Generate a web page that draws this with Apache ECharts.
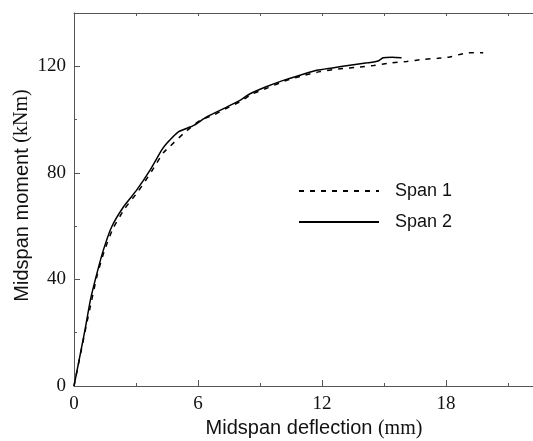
<!DOCTYPE html>
<html>
<head>
<meta charset="utf-8">
<script src="https://cdn.jsdelivr.net/npm/echarts@6/dist/echarts.min.js"></script>
<style>
  html, body { margin: 0; padding: 0; background: #fff; overflow: hidden; }
  /* plot box runs past the right edge of the 533px window */
  #chart-container { width: 570px; height: 441px; }
</style>
</head>
<body>
<div id="chart-container"></div>
<script>
// Span 1 (dashed)
var span1Deflection = [0, 0.55, 0.85, 1.12, 1.46, 1.88, 2.45, 3.1, 3.75, 4.32, 4.65, 5.29, 6.1, 6.7, 7.5, 8.1, 8.6, 9.4, 10.2, 11.1, 11.9, 12.8, 13.84, 14.5, 15.29, 16.1, 16.9, 17.6, 18.19, 19.0, 19.8];
var span1Moment = [0, 21, 32, 41.5, 50.5, 59, 66.5, 73, 80.5, 87.5, 90, 94.7, 99.7, 101.5, 104.7, 107, 109.5, 112, 114.5, 116.5, 118, 119, 119.7, 120.3, 121.2, 121.8, 122.6, 123, 123.5, 125, 125.1];

// Span 2 (solid)
var span2Deflection = [0, 0.53, 0.8, 1.1, 1.42, 1.82, 2.39, 3.03, 3.68, 4.24, 4.48, 5.05, 5.77, 6.42, 7.39, 8.03, 8.52, 9.3, 10.13, 11.0, 11.74, 12.5, 13.35, 14.2, 14.72, 14.96, 15.4, 15.85];
var span2Moment = [0, 21, 32.5, 42, 51, 59.7, 67.2, 73.5, 81, 88.5, 91, 95.4, 97.7, 101, 104.7, 107.2, 109.7, 112.3, 114.7, 116.8, 118.5, 119.4, 120.4, 121.3, 122, 123.2, 123.4, 123.2];

var seriesNames = ['Span 1', 'Span 2'];

function pairs(xs, ys) {
  return xs.map(function (x, i) { return [x, ys[i]]; });
}

var dom = document.getElementById('chart-container');
var myChart = echarts.init(dom, null, { renderer: 'canvas' });

var axisColor = '#555';
var serif = '"Liberation Serif", "DejaVu Serif", serif';
var sans = '"Liberation Sans", Arial, sans-serif';

var option = {
  animation: false,
  backgroundColor: '#fff',
  grid: { left: 74, top: 13, bottom: 55, right: 0, containLabel: false, outerBoundsMode: 'none' },
  legend: {
    orient: 'vertical',
    left: 293,
    top: 177,
    itemWidth: 80,
    itemHeight: 14,
    itemGap: 13,
    data: seriesNames,
    itemStyle: { opacity: 0 },
    textStyle: { fontFamily: sans, fontSize: 18, color: '#111', padding: [0, 0, 0, 11] }
  },
  xAxis: [
    {
      type: 'value',
      min: 0,
      max: 24,
      interval: 6,
      name: 'Midspan deflection {u|(mm)}',
      nameLocation: 'middle',
      nameGap: 32,
      nameTextStyle: {
        fontFamily: sans, fontSize: 20, color: '#111',
        padding: [0, 16, 0, 0],
        rich: { u: { fontFamily: serif, fontSize: 20, color: '#111' } }
      },
      axisLine: { lineStyle: { color: axisColor, width: 1 } },
      axisTick: { inside: true, length: 6, lineStyle: { color: axisColor } },
      minorTick: { show: true, splitNumber: 2, length: 3, lineStyle: { color: axisColor } },
      splitLine: { show: false },
      axisLabel: {
        fontFamily: serif, fontSize: 19, color: '#111', margin: 9,
        formatter: function (v) { return v > 20 ? '' : String(v); }
      }
    },
    {
      type: 'value',
      position: 'top',
      min: 0,
      max: 24,
      interval: 3,
      axisLine: { onZero: false, lineStyle: { color: axisColor, width: 1 } },
      axisTick: { inside: true, length: 3, lineStyle: { color: axisColor } },
      axisLabel: { show: false },
      splitLine: { show: false }
    }
  ],
  yAxis: {
    type: 'value',
    min: 0,
    max: 140,
    interval: 40,
    name: 'Midspan moment {u|(kNm)}',
    nameLocation: 'middle',
    nameGap: 42,
    nameMoveOverlap: false,
    nameTextStyle: {
      fontFamily: sans, fontSize: 20, color: '#111',
      padding: [0, 0, 0, 8],
      rich: { u: { fontFamily: serif, fontSize: 20, color: '#111' } }
    },
    axisLine: { show: true, lineStyle: { color: axisColor, width: 1 } },
    axisTick: { inside: true, length: 6, lineStyle: { color: axisColor } },
    minorTick: { show: true, splitNumber: 2, length: 3, lineStyle: { color: axisColor } },
    splitLine: { show: false },
    axisLabel: {
      fontFamily: serif, fontSize: 19, color: '#111', margin: 8,
      formatter: function (v) { return v > 130 ? '' : String(v); }
    }
  },
  series: [
    {
      name: seriesNames[0],
      type: 'line',
      symbol: 'none',
      smooth: 0.2,
      data: pairs(span1Deflection, span1Moment),
      lineStyle: { color: '#000', width: 1.5, type: [5, 6] },
      itemStyle: { color: '#000' }
    },
    {
      name: seriesNames[1],
      type: 'line',
      symbol: 'none',
      smooth: 0.2,
      data: pairs(span2Deflection, span2Moment),
      lineStyle: { color: '#000', width: 1.5, type: 'solid' },
      itemStyle: { color: '#000' }
    }
  ]
};

myChart.setOption(option);
window.addEventListener('resize', myChart.resize);
</script>
</body>
</html>
